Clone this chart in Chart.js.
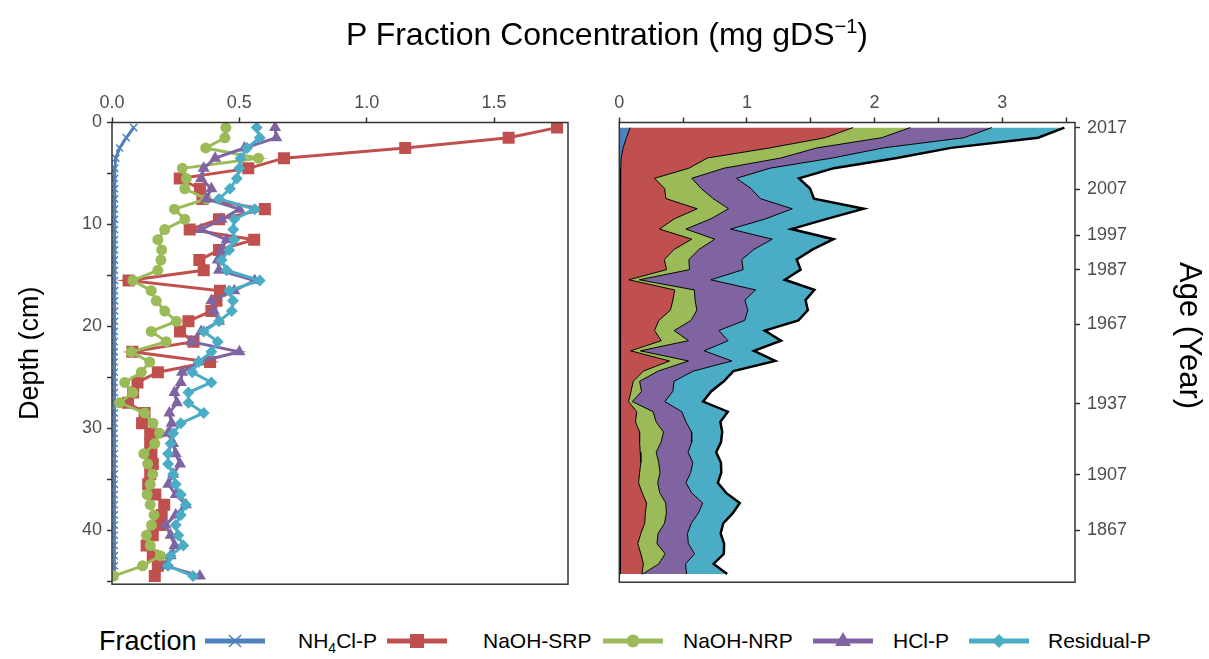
<!DOCTYPE html>
<html>
<head>
<meta charset="utf-8">
<script src="https://cdn.jsdelivr.net/npm/chart.js@4.4.1/dist/chart.umd.min.js"></script>
<style>
  body { margin: 0; background: #fff; font-family: "Liberation Sans", Arial, sans-serif; }
  #wrap { position: relative; width: 1209px; height: 659px; overflow: hidden; }
  #c1 { position: absolute; left: 0; top: 0; }
  #c2 { position: absolute; left: 600px; top: 0; }
  #title { position: absolute; top: 7px; left: 0; width: 1214px; text-align: center; font-size: 32px; line-height: 38px; color: #000; }
  #title sup { font-size: 20px; }
  #agetitle { position: absolute; left: 1172px; top: 262px; font-size: 31px; line-height: 36px; color: #000;
    writing-mode: vertical-rl; white-space: nowrap; }
  .leg { position: absolute; top: 627px; font-size: 21px; color: #000; white-space: nowrap; line-height: 28px; }
  .leg sub { font-size: 14px; }
  .sym { position: absolute; top: 631px; }
</style>
</head>
<body>
<div id="wrap">
  <canvas id="c1" width="600" height="600"></canvas>
  <canvas id="c2" width="609" height="600"></canvas>
  <div id="title">P Fraction Concentration (mg gDS<sup>&minus;1</sup>)</div>
  <div id="agetitle">Age (Year)</div>
  <div class="leg" style="left:99px;top:624px;font-size:27px;line-height:34px;">Fraction</div>
  <svg class="sym" style="left:205px" width="60" height="20"><line x1="0" y1="10" x2="60" y2="10" stroke="#4F81BD" stroke-width="5"/><path d="M24 4 L36 16 M36 4 L24 16" stroke="#4F81BD" stroke-width="1.5"/></svg>
  <div class="leg" style="left:298px">NH<sub>4</sub>Cl-P</div>
  <svg class="sym" style="left:387px" width="60" height="20"><line x1="0" y1="10" x2="60" y2="10" stroke="#C0504D" stroke-width="5"/><rect x="23" y="3" width="14" height="14" fill="#C0504D"/></svg>
  <div class="leg" style="left:483px">NaOH-SRP</div>
  <svg class="sym" style="left:603px" width="60" height="20"><line x1="0" y1="10" x2="60" y2="10" stroke="#9BBB59" stroke-width="5"/><circle cx="30" cy="10" r="6.5" fill="#9BBB59"/></svg>
  <div class="leg" style="left:683px">NaOH-NRP</div>
  <svg class="sym" style="left:813px" width="60" height="20"><line x1="0" y1="10" x2="60" y2="10" stroke="#8064A2" stroke-width="5"/><path d="M30 1 L38 15 L22 15 Z" fill="#8064A2"/></svg>
  <div class="leg" style="left:893px">HCl-P</div>
  <svg class="sym" style="left:969px" width="60" height="20"><line x1="0" y1="10" x2="60" y2="10" stroke="#4BACC6" stroke-width="5"/><path d="M30 3 L37 10 L30 17 L23 10 Z" fill="#4BACC6"/></svg>
  <div class="leg" style="left:1048px">Residual-P</div>
</div>
<script>
// sample depth (cm)
const depth = [0.5, 1.5, 2.5, 3.5, 4.5, 5.5, 6.5, 7.5, 8.5, 9.5,
  10.5, 11.5, 12.5, 13.5, 14.5, 15.5, 16.5, 17.5, 18.5, 19.5,
  20.5, 21.5, 22.5, 23.5, 24.5, 25.5, 26.5, 27.5, 28.5, 29.5,
  30.5, 31.5, 32.5, 33.5, 34.5, 35.5, 36.5, 37.5, 38.5, 39.5,
  40.5, 41.5, 42.5, 43.5, 44.5];

// P fractions, mg gDS-1
const nh4clP = [0.085, 0.056, 0.030, 0.015, 0.011, 0.010, 0.010, 0.010, 0.010, 0.010,
  0.010, 0.010, 0.010, 0.010, 0.010, 0.010, 0.010, 0.010, 0.010, 0.010,
  0.009, 0.009, 0.009, 0.009, 0.009, 0.009, 0.009, 0.009, 0.009, 0.009,
  0.009, 0.009, 0.009, 0.009, 0.009, 0.009, 0.009, 0.009, 0.009, 0.009,
  0.009, 0.009, 0.009, 0.009, 0.009];
const naohSRP = [1.747, 1.557, 1.151, 0.675, 0.535, 0.266, 0.345, 0.355, 0.600, 0.420,
  0.305, 0.558, 0.420, 0.343, 0.360, 0.065, 0.424, 0.410, 0.390, 0.300,
  0.267, 0.320, 0.080, 0.385, 0.180, 0.100, 0.083, 0.063, 0.128, 0.118,
  0.150, 0.150, 0.155, 0.160, 0.150, 0.142, 0.170, 0.205, 0.195, 0.190,
  0.160, 0.136, 0.160, 0.180, 0.168];
const naohNRP = [0.447, 0.443, 0.368, 0.575, 0.276, 0.292, 0.286, 0.370, 0.245, 0.286,
  0.207, 0.180, 0.195, 0.192, 0.180, 0.082, 0.154, 0.174, 0.207, 0.253,
  0.154, 0.213, 0.076, 0.148, 0.115, 0.050, 0.082, 0.030, 0.128, 0.161,
  0.187, 0.168, 0.125, 0.140, 0.160, 0.150, 0.138, 0.150, 0.165, 0.155,
  0.135, 0.150, 0.190, 0.120, 0.005];
const hclP = [0.640, 0.645, 0.520, 0.405, 0.360, 0.350, 0.390, 0.370, 0.500, 0.430,
  0.350, 0.450, 0.430, 0.415, 0.420, 0.560, 0.480, 0.390, 0.400, 0.420,
  0.350, 0.310, 0.500, 0.340, 0.275, 0.270, 0.245, 0.255, 0.225, 0.234,
  0.220, 0.240, 0.250, 0.267, 0.240, 0.221, 0.250, 0.290, 0.250, 0.210,
  0.230, 0.246, 0.230, 0.210, 0.345];
const residualP = [0.568, 0.580, 0.530, 0.505, 0.500, 0.490, 0.463, 0.420, 0.560, 0.480,
  0.476, 0.480, 0.460, 0.430, 0.450, 0.580, 0.460, 0.475, 0.470, 0.420,
  0.360, 0.415, 0.390, 0.340, 0.315, 0.390, 0.300, 0.300, 0.360, 0.270,
  0.240, 0.230, 0.220, 0.220, 0.240, 0.250, 0.270, 0.290, 0.270, 0.250,
  0.260, 0.280, 0.230, 0.220, 0.318];

// age axis (right panel)
const ageDepth = [0.5, 6.6, 11.1, 14.5, 19.9, 27.7, 34.7, 40.2];
const ageYear = ['2017', '2007', '1997', '1987', '1967', '1937', '1907', '1867'];

const names = ['NH4Cl-P', 'NaOH-SRP', 'NaOH-NRP', 'HCl-P', 'Residual-P'];
const colors = ['#4F81BD', '#C0504D', '#9BBB59', '#8064A2', '#4BACC6'];
const series = [nh4clP, naohSRP, naohNRP, hclP, residualP];

const tickFont = { family: 'Liberation Sans', size: 18 };
const tickGrey = '#4d4d4d';

const frame = {
  id: 'frame',
  afterDraw(chart) {
    const { ctx, chartArea: a } = chart;
    ctx.save();
    ctx.strokeStyle = '#333';
    ctx.lineWidth = 1.5;
    ctx.strokeRect(a.left, a.top, a.right - a.left, a.bottom - a.top);
    ctx.restore();
  }
};

const pts = arr => arr.map((v, i) => ({ x: v, y: depth[i] }));

// left panel: profiles
const styles = [
  { pointStyle: 'crossRot', pointRadius: 5, pointBorderWidth: 1.5 },
  { pointStyle: 'rect', pointRadius: 8.5, pointBorderWidth: 0 },
  { pointStyle: 'circle', pointRadius: 5.5, pointBorderWidth: 0 },
  { pointStyle: 'triangle', pointRadius: 7, pointBorderWidth: 0 },
  { pointStyle: 'rectRot', pointRadius: 6, pointBorderWidth: 0 }
];

new Chart(document.getElementById('c1'), {
  type: 'scatter',
  data: {
    datasets: series.map((s, k) => Object.assign({
      label: names[k],
      data: pts(s),
      showLine: true,
      borderColor: colors[k],
      backgroundColor: colors[k],
      pointBackgroundColor: colors[k],
      pointBorderColor: colors[k],
      borderWidth: 3,
      order: 5 - k
    }, styles[k]))
  },
  options: {
    responsive: false,
    animation: false,
    layout: { padding: { left: 0, right: 32, top: 0, bottom: 10.5 } },
    plugins: { legend: { display: false }, tooltip: { enabled: false } },
    scales: {
      x: {
        type: 'linear', position: 'top', min: 0, max: 1.79,
        afterFit: s => { s.height = 122.5; },
        ticks: { stepSize: 0.5, includeBounds: false, color: tickGrey, font: tickFont, padding: 4,
          maxRotation: 0, callback: v => v.toFixed(1) },
        grid: { drawOnChartArea: false, tickLength: 5, tickColor: '#333', tickWidth: 1.5 },
        border: { display: false }
      },
      y: {
        type: 'linear', position: 'left', reverse: true, min: 0, max: 45.3,
        afterFit: s => { s.width = 112; },
        ticks: { stepSize: 5, includeBounds: false, color: tickGrey, font: tickFont, padding: 5,
          callback: v => (v % 10 === 0 ? String(v) : '') },
        grid: { drawOnChartArea: false, tickLength: 5, tickColor: '#333', tickWidth: 1.5 },
        border: { display: false },
        title: { display: true, text: 'Depth (cm)', color: '#000',
          font: { family: 'Liberation Sans', size: 27 }, padding: { top: 14, bottom: 0 } }
      }
    }
  },
  plugins: [frame]
});

// right panel: cumulative areas
const cum = [];
let run = depth.map(() => 0);
const base = run.slice();
series.forEach(s => {
  run = run.map((v, i) => v + s[i]);
  cum.push(run.slice());
});

const areaSets = [{
  label: 'base', data: pts(base), borderWidth: 0, pointRadius: 0, fill: false
}].concat(cum.map((c, k) => ({
  label: names[k],
  data: pts(c),
  borderColor: '#000',
  borderWidth: k === 4 ? 2.5 : 1,
  backgroundColor: colors[k],
  pointRadius: 0,
  fill: '-1',
  tension: 0
})));

new Chart(document.getElementById('c2'), {
  type: 'line',
  data: { datasets: areaSets },
  options: {
    responsive: false,
    animation: false,
    indexAxis: 'y',
    layout: { padding: { left: 19.3, right: 0, top: 0, bottom: 10.5 } },
    plugins: { legend: { display: false }, tooltip: { enabled: false } },
    scales: {
      x: {
        type: 'linear', position: 'top', min: 0, max: 3.57,
        afterFit: s => { s.height = 122.5; },
        ticks: { stepSize: 0.5, includeBounds: false, color: tickGrey, font: tickFont, padding: 4,
          maxRotation: 0, callback: v => (v % 1 === 0 ? String(v) : '') },
        grid: { drawOnChartArea: false, tickLength: 5, tickColor: '#333', tickWidth: 1.5 },
        border: { display: false }
      },
      y: {
        type: 'linear', position: 'right', reverse: true, min: 0, max: 45.3,
        afterFit: s => { s.width = 134; },
        afterBuildTicks: s => { s.ticks = ageDepth.map(v => ({ value: v })); },
        ticks: { color: tickGrey, font: tickFont, padding: 7, autoSkip: false,
          callback: (v, i) => ageYear[i] },
        grid: { drawOnChartArea: false, tickLength: 5, tickColor: '#333', tickWidth: 1.5 },
        border: { display: false }
      }
    }
  },
  plugins: [frame]
});
</script>
</body>
</html>
